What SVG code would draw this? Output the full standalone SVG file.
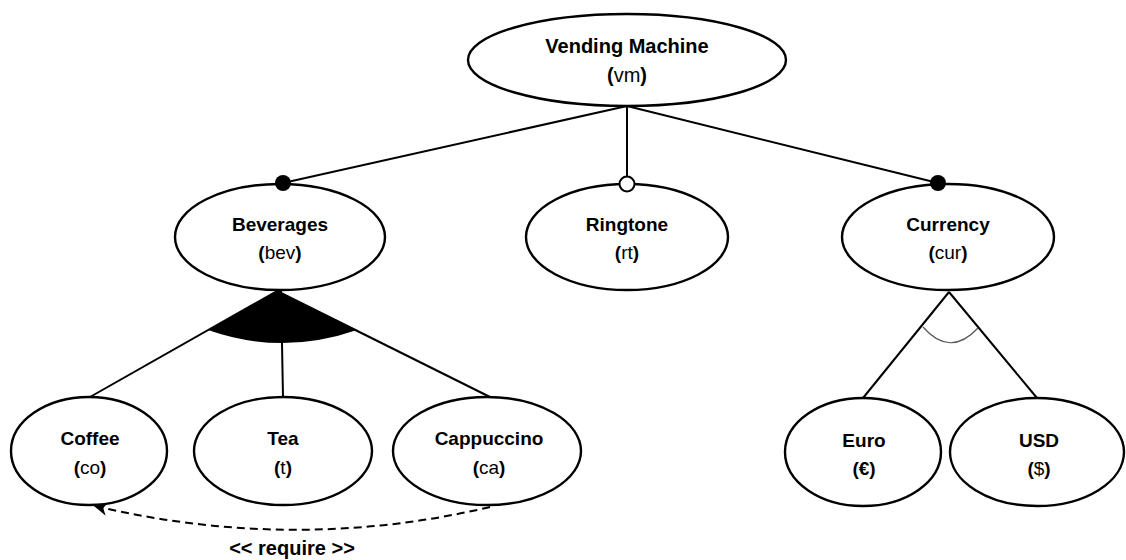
<svg xmlns="http://www.w3.org/2000/svg" width="1126" height="560" viewBox="0 0 1126 560">
<style>
.n{fill:#fff;stroke:#000;stroke-width:2.4}
.e{stroke:#000;stroke-width:2;fill:none}
.t{font-family:"Liberation Sans",Arial,sans-serif;font-size:19px;font-weight:bold;fill:#000;text-anchor:middle}
.s{font-family:"Liberation Sans",Arial,sans-serif;font-size:19px;fill:#000;text-anchor:middle}
.b{font-weight:bold}
</style>
<defs>
<marker id="arr" viewBox="0 0 10 10" refX="9" refY="5" markerWidth="14" markerHeight="14" markerUnits="userSpaceOnUse" orient="auto">
<path d="M0,0 L10,5 L0,10 L3,5 Z" fill="#000"/>
</marker>
</defs>
<rect width="1126" height="560" fill="#fff"/>
<g id="connectors">
<line class="e" x1="627" y1="106" x2="283" y2="183"/>
<line class="e" x1="627" y1="106" x2="627" y2="183"/>
<line class="e" x1="627" y1="106" x2="938" y2="183"/>
<line class="e" x1="277" y1="291" x2="90" y2="397"/>
<line class="e" x1="281" y1="291" x2="283" y2="397"/>
<line class="e" x1="277" y1="291" x2="490" y2="397"/>
<path d="M277,291 L208,330 Q282,356 357,330 Z" fill="#000"/>
<line class="e" x1="949" y1="292" x2="863" y2="398"/>
<line class="e" x1="949" y1="292" x2="1037" y2="398"/>
<path d="M923,327 Q950,358 978,328" fill="none" stroke="#555" stroke-width="1.2"/>
<path d="M490,507 Q295,553 95,506" fill="none" stroke="#000" stroke-width="2" stroke-dasharray="8,5" marker-end="url(#arr)"/>
<text class="t" x="292" y="555" style="font-size:20px">&lt;&lt; require &gt;&gt;</text>
</g>
<g id="vm">
<ellipse class="n" cx="627" cy="60" rx="159" ry="46"/>
<text class="t" x="627" y="53" style="font-size:20px">Vending Machine</text>
<text class="s" x="627" y="82" style="font-size:20px"><tspan class="b">(</tspan>vm<tspan class="b">)</tspan></text>
</g>
<g id="bev">
<ellipse class="n" cx="280" cy="237" rx="105" ry="53"/>
<text class="t" x="280" y="231">Beverages</text>
<text class="s" x="280" y="259"><tspan class="b">(</tspan>bev<tspan class="b">)</tspan></text>
<circle cx="283" cy="183" r="8" fill="#000"/>
</g>
<g id="rt">
<ellipse class="n" cx="627" cy="237" rx="101" ry="53"/>
<text class="t" x="627" y="231">Ringtone</text>
<text class="s" x="627" y="259"><tspan class="b">(</tspan>rt<tspan class="b">)</tspan></text>
<circle cx="627" cy="184" r="7.5" fill="#fff" stroke="#000" stroke-width="2"/>
</g>
<g id="cur">
<ellipse class="n" cx="948" cy="237" rx="106" ry="53"/>
<text class="t" x="948" y="231">Currency</text>
<text class="s" x="948" y="259"><tspan class="b">(</tspan>cur<tspan class="b">)</tspan></text>
<circle cx="938" cy="183" r="8" fill="#000"/>
</g>
<g id="co">
<ellipse class="n" cx="89" cy="451" rx="78" ry="54"/>
<text class="t" x="90" y="445">Coffee</text>
<text class="s" x="90" y="474"><tspan class="b">(</tspan>co<tspan class="b">)</tspan></text>
</g>
<g id="t">
<ellipse class="n" cx="283" cy="451" rx="89" ry="54"/>
<text class="t" x="283" y="445">Tea</text>
<text class="s" x="283" y="474"><tspan class="b">(</tspan>t<tspan class="b">)</tspan></text>
</g>
<g id="ca">
<ellipse class="n" cx="487" cy="451" rx="94" ry="54"/>
<text class="t" x="489" y="445">Cappuccino</text>
<text class="s" x="489" y="474"><tspan class="b">(</tspan>ca<tspan class="b">)</tspan></text>
</g>
<g id="euro">
<ellipse class="n" cx="863" cy="452" rx="78" ry="54"/>
<text class="t" x="864" y="447">Euro</text>
<text class="t" x="864" y="475">(€)</text>
</g>
<g id="usd">
<ellipse class="n" cx="1037" cy="452" rx="87" ry="54"/>
<text class="t" x="1039" y="447">USD</text>
<text class="s" x="1039" y="475"><tspan class="b">(</tspan>$<tspan class="b">)</tspan></text>
</g>
</svg>
